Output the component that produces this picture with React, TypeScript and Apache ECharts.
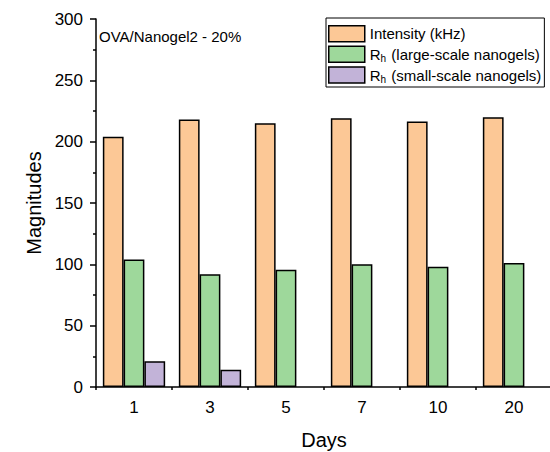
import React, { useEffect, useRef } from "react";
import * as echarts from "echarts";

const days = ["1", "3", "5", "7", "10", "20"];
const intensity = [204, 218, 215, 219, 216.5, 220];
const rhLarge = [104, 92, 95.5, 100, 98, 101];
const rhSmall: (number | null)[] = [21, 14, null, null, null, null];
const seriesNames = ["Intensity (kHz)", "Rh (large-scale nanogels)", "Rh (small-scale nanogels)"];
const annotation = "OVA/Nanogel2 - 20%";

const FONT = "'Liberation Sans', Arial, sans-serif";

export default function App() {
  const ref = useRef<HTMLDivElement>(null);
  useEffect(() => {
    if (!ref.current) return;
    const chart = echarts.init(ref.current, null, { renderer: "svg" });
    const barStyle = (color: string) => ({ color, borderColor: "#000", borderWidth: 1.5 });
    chart.setOption({
      animation: false,
      backgroundColor: "#fff",
      textStyle: { fontFamily: FONT, color: "#000" },
      grid: { left: 96, top: 19, width: 456, height: 368, containLabel: false, outerBoundsMode: "none" },
      legend: {
        orient: "vertical",
        left: 326,
        top: 18,
        padding: [7, 3, 3, 2],
        itemWidth: 36,
        itemHeight: 16,
        itemGap: 3,
        borderColor: "#000",
        borderWidth: 1,
        icon: "rect",
        itemStyle: { borderColor: "#000", borderWidth: 1.5 },
        textStyle: {
          fontFamily: FONT,
          fontSize: 15,
          color: "#000",
          rich: {
            n: { fontFamily: FONT, fontSize: 15, color: "#000" },
            s: { fontFamily: FONT, fontSize: 10, color: "#000", padding: [8, 1, 0, 0] },
          },
        },
        formatter: (name: string) =>
          name.startsWith("Rh") ? `{n|R}{s|h}{n|${name.slice(2)}}` : name,
        data: seriesNames,
      },
      graphic: [
        {
          type: "text",
          left: 99,
          top: 29,
          style: { text: annotation, font: `15px ${FONT}`, fill: "#000" },
        },
      ],
      xAxis: [
        {
          type: "category",
          data: days,
          name: "Days",
          nameLocation: "middle",
          nameGap: 43,
          nameTextStyle: { fontFamily: FONT, fontSize: 20, color: "#000" },
          axisLine: { lineStyle: { color: "#000", width: 1.5 } },
          axisTick: { alignWithLabel: true, inside: false, length: 6, lineStyle: { color: "#000", width: 1.5 } },
          axisLabel: { fontFamily: FONT, fontSize: 17, color: "#000", margin: 12 },
        },
        {
          type: "category",
          data: days,
          position: "bottom",
          axisLine: { show: false },
          axisTick: { show: true, length: 3, lineStyle: { color: "#000", width: 1.5 } },
          axisLabel: { show: false },
        },
      ],
      yAxis: {
        type: "value",
        min: 0,
        max: 300,
        interval: 50,
        name: "Magnitudes",
        nameLocation: "middle",
        nameGap: 51,
        nameTextStyle: { fontFamily: FONT, fontSize: 20, color: "#000" },
        axisLine: { show: true, lineStyle: { color: "#000", width: 1.5 } },
        axisTick: { show: true, length: 6, lineStyle: { color: "#000", width: 1.5 } },
        minorTick: { show: true, splitNumber: 2, length: 3, lineStyle: { color: "#000", width: 1.5 } },
        splitLine: { show: false },
        axisLabel: { fontFamily: FONT, fontSize: 17, color: "#000", margin: 13 },
      },
      series: [
        { name: seriesNames[0], type: "bar", data: intensity, barGap: "0%", barCategoryGap: "18%", itemStyle: barStyle("#FCC896") },
        { name: seriesNames[1], type: "bar", data: rhLarge, itemStyle: barStyle("#9ED89B") },
        { name: seriesNames[2], type: "bar", data: rhSmall, itemStyle: barStyle("#C2B3D8") },
      ],
    });
    return () => chart.dispose();
  }, []);
  return <div ref={ref} style={{ width: 550, height: 452, position: "absolute", left: 0, top: 0 }} />;
}
